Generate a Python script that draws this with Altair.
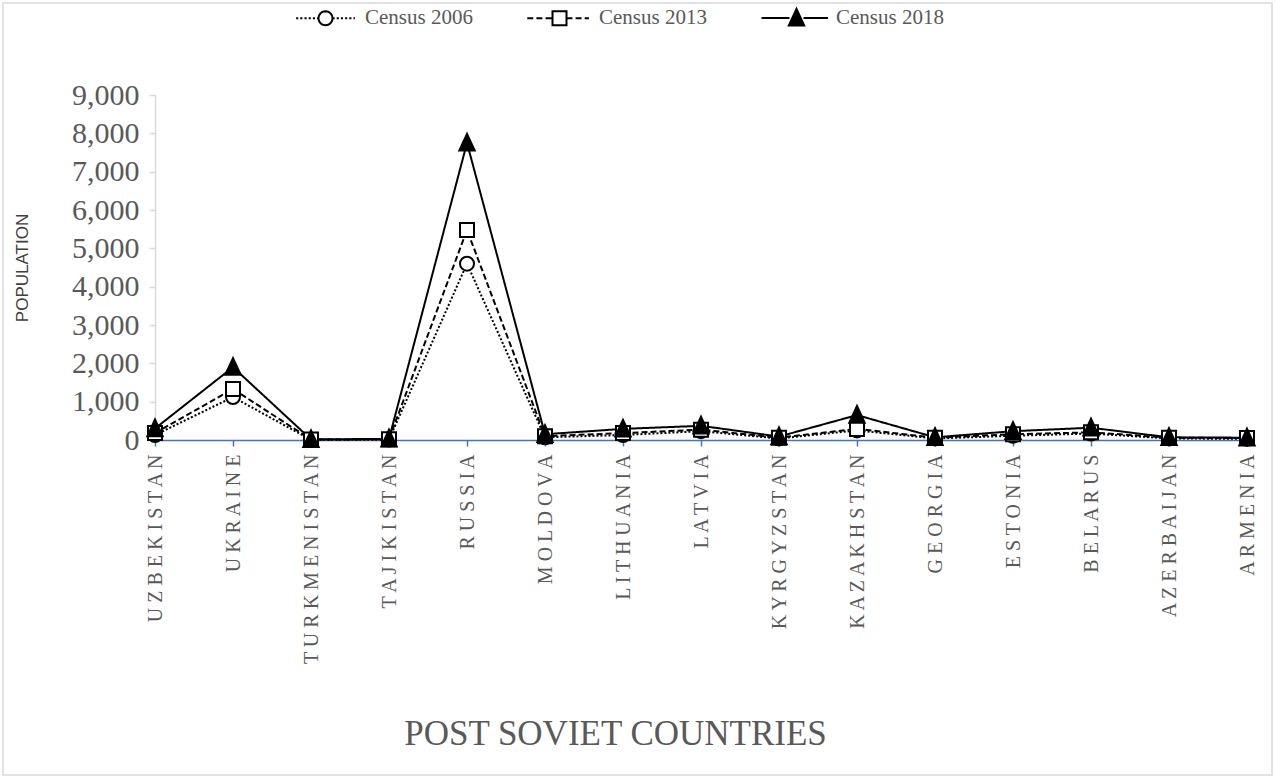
import altair as alt
import pandas as pd
import math

countries = ["UZBEKISTAN", "UKRAINE", "TURKMENISTAN", "TAJIKISTAN", "RUSSIA", "MOLDOVA",
             "LITHUANIA", "LATVIA", "KYRGYZSTAN", "KAZAKHSTAN", "GEORGIA", "ESTONIA",
             "BELARUS", "AZERBAIJAN", "ARMENIA"]
series_names = ["Census 2006", "Census 2013", "Census 2018"]
census_2006 = [130, 1120, 5, 10, 4600, 70, 130, 230, 40, 250, 40, 110, 170, 40, 30]
census_2013 = [180, 1330, 10, 20, 5480, 100, 180, 270, 60, 290, 60, 150, 200, 60, 50]
census_2018 = [300, 1900, 15, 30, 7750, 150, 290, 370, 90, 650, 70, 230, 320, 70, 60]
y_ticks = [0, 1000, 2000, 3000, 4000, 5000, 6000, 7000, 8000, 9000]

rows = []
for name, vals in zip(series_names, [census_2006, census_2013, census_2018]):
    for c, v in zip(countries, vals):
        rows.append({"country": c, "series": name, "population": v})
df = pd.DataFrame(rows)

W, H = 1092, 345
PAD_L, PAD_T = 155, 95

# ---- legend glyph paths (unit = 7px at symbol size 196) ----
def seg_line(x0, x1, dash, gap):
    parts = []
    x = x0
    while x < x1 - 1e-6:
        e = min(x + dash, x1)
        parts.append(f"M{x:.3f},0L{e:.3f},0")
        x = e + gap
    return "".join(parts)

def circle_path(r=1.0, n=28):
    pts = [(r * math.cos(2 * math.pi * i / n), r * math.sin(2 * math.pi * i / n)) for i in range(n)]
    return "M" + "L".join(f"{x:.3f},{y:.3f}" for x, y in pts) + "Z"

def tri_path(k=1.0):
    cy = 0.3
    pts = [(0, -1.3), (-1.1, 1.1), (1.1, 1.1)]
    pts = [(x * k, cy + (y - cy) * k) for x, y in pts]
    return "M" + "L".join(f"{x:.3f},{y:.3f}" for x, y in pts) + "Z"

tri = tri_path(1.0)
leg_2006 = seg_line(-4.2, -1.0, 0.3, 0.3) + seg_line(1.0, 4.2, 0.3, 0.3) + circle_path()
leg_2013 = seg_line(-4.6, -1.0, 0.85, 0.45) + seg_line(1.0, 4.2, 0.85, 0.45) + "M-1,-1L1,-1L1,1L-1,1Z"
leg_2018 = "M-5,0L-1,0M1,0L4.5,0" + "".join(tri_path(k) for k in [1.0, 0.8, 0.6, 0.4, 0.2]) + "M0,-0.3L0,0.6"
data_shapes = ["circle", "square", tri]

serif = "Liberation Serif"

base = alt.Chart(df).encode(
    x=alt.X("country:N", sort=countries, scale=alt.Scale(type="point", padding=0),
            axis=alt.Axis(title="POST SOVIET COUNTRIES", labelAngle=-90, labelAlign="right",
                          labelBaseline="middle", labelFont=serif, labelFontSize=20,
                          labelColor="#595959", labelPadding=8,
                          labelExpr="join(split(datum.label, ''), ' ')",
                          domainColor="#4472c4", domainWidth=1.5, tickColor="#4472c4",
                          tickSize=6, tickWidth=1.5, grid=False, labelLimit=400,
                          titleFont=serif, titleFontSize=35, titleFontWeight="normal",
                          titleColor="#595959", titleX=460, titleY=293,
                          titleAlign="center", titleBaseline="middle")),
    y=alt.Y("population:Q", scale=alt.Scale(domain=[0, 9000], nice=False),
            axis=alt.Axis(title="POPULATION", values=y_ticks, format=",d", grid=False,
                          labelFont=serif, labelFontSize=30, labelColor="#595959",
                          labelPadding=10, domainColor="#d9d9d9", domainWidth=1.5,
                          tickColor="#d9d9d9", tickSize=6, tickWidth=1.5,
                          titleFont="Liberation Sans", titleFontSize=17, titleFontWeight="normal",
                          titleColor="#404040", titleAngle=-90, titleX=-133, titleY=H / 2,
                          titleAlign="center", titleBaseline="middle")),
)

lines = base.mark_line(color="black", strokeWidth=2).encode(
    strokeDash=alt.StrokeDash("series:N", scale=alt.Scale(domain=series_names,
                              range=[[2, 2], [6, 3], [1, 0]]), legend=None),
    detail="series:N",
)

points = base.mark_point(size=196, stroke="black", strokeWidth=2, opacity=1).encode(
    shape=alt.Shape("series:N", scale=alt.Scale(domain=series_names, range=data_shapes), legend=None),
    fill=alt.condition("datum.series === 'Census 2018'", alt.value("black"), alt.value("white")),
)

legend_layer = alt.Chart(df).transform_filter("false").mark_point(
    size=196, stroke="black", strokeWidth=2, opacity=1, filled=False).encode(
    shape=alt.Shape("series:N", scale=alt.Scale(domain=series_names,
                    range=[leg_2006, leg_2013, leg_2018]),
                    legend=alt.Legend(title=None, orient="none", legendX=160, legendY=-88,
                                      direction="horizontal", labelFont=serif, labelFontSize=21,
                                      labelColor="#595959", symbolSize=196, symbolStrokeWidth=2,
                                      symbolStrokeColor="black", labelOffset=29,
                                      columnPadding=50, padding=0, labelLimit=300)),
)

border = alt.Chart(pd.DataFrame({"a": [0]})).mark_rect(
    fill=None, stroke="#d9d9d9", strokeWidth=1.5, clip=False).encode(
    x=alt.value(-152), x2=alt.value(1272 - PAD_L), y=alt.value(3 - PAD_T), y2=alt.value(775 - PAD_T))

chart = alt.layer(border, lines, points, legend_layer).resolve_scale(shape="independent").properties(
    width=W, height=H,
    autosize=alt.AutoSizeParams(type="none"),
    padding={"left": PAD_L, "top": PAD_T, "right": 1275 - PAD_L - W, "bottom": 777 - PAD_T - H},
    background="white",
).configure_view(stroke=None)

chart.save("out.html", embed_options={"renderer": "svg", "actions": False})
